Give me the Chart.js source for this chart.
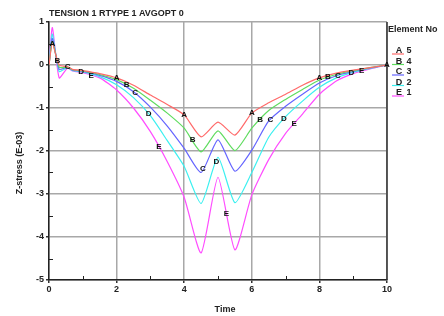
<!DOCTYPE html>
<html lang="en">
<head>
<meta charset="UTF-8">
<title>Z-stress</title>
<script src="https://cdn.jsdelivr.net/npm/chart.js@4.4.0/dist/chart.umd.min.js"></script>
<style>
  body { margin: 0; padding: 0; background: #ffffff; }
  #chart { display: block; }
</style>
</head>
<body>
<canvas id="chart" width="444" height="316"></canvas>
<script>
// time axis and the five element curves (values in E-03)
var times = [0, 0.1, 0.3, 0.55, 0.7, 1, 1.5, 2, 2.5, 3, 3.5, 4, 4.5, 5, 5.5, 6, 6.5, 7, 7.5, 8, 8.5, 9, 9.5, 10];
var seriesA = [0, 0.5, 0.0, -0.04, -0.1, -0.13, -0.2, -0.3, -0.47, -0.7, -0.92, -1.16, -1.67, -1.33, -1.63, -1.12, -0.88, -0.68, -0.47, -0.3, -0.19, -0.12, -0.06, 0];
var seriesB = [0, 0.55, -0.05, -0.05, -0.11, -0.14, -0.22, -0.34, -0.54, -0.82, -1.12, -1.47, -2.02, -1.53, -1.99, -1.47, -1.06, -0.8, -0.57, -0.35, -0.22, -0.13, -0.06, 0];
var seriesC = [0, 0.62, -0.1, -0.05, -0.12, -0.15, -0.24, -0.38, -0.62, -0.98, -1.42, -1.94, -2.5, -1.74, -2.47, -1.98, -1.3, -0.96, -0.68, -0.42, -0.25, -0.15, -0.07, 0];
var seriesD = [0, 0.72, -0.15, -0.06, -0.13, -0.16, -0.27, -0.46, -0.76, -1.18, -1.76, -2.36, -3.22, -2.15, -3.2, -2.5, -1.68, -1.2, -0.84, -0.52, -0.3, -0.17, -0.08, 0];
var seriesE = [0, 0.87, -0.3, -0.07, -0.14, -0.18, -0.3, -0.58, -1.0, -1.55, -2.25, -3.08, -4.37, -2.61, -4.3, -3.02, -2.2, -1.59, -1.14, -0.68, -0.37, -0.2, -0.09, 0];

var letters = ['A', 'B', 'C', 'D', 'E'];
var elementNos = ['5', '4', '3', '2', '1'];
// times at which each curve carries its letter
var labelTimes = [
  [0.1, 2, 4, 6, 8, 10],
  [0.25, 2.3, 4.25, 6.25, 8.25],
  [0.55, 2.55, 4.55, 6.55, 8.55],
  [0.95, 2.95, 4.95, 6.95, 8.95],
  [1.25, 3.25, 5.25, 7.25, 9.25]
];
var colors = ['#ff6a6a', '#5fdc5f', '#6464ff', '#3cf0f0', '#ff4cff'];

var titleText = 'TENSION 1 RTYPE 1 AVGOPT 0';
var xTitle = 'Time';
var yTitle = 'Z-stress (E-03)';
var legendTitle = 'Element No';

var FONT = '"Liberation Sans", Arial, sans-serif';

function pts(values) {
  return values.map(function (v, i) { return { x: times[i], y: v }; });
}

var allSeries = [seriesA, seriesB, seriesC, seriesD, seriesE];
var datasets = allSeries.map(function (s, i) {
  return {
    label: letters[i] + ' ' + elementNos[i],
    data: pts(s),
    borderColor: colors[i],
    borderWidth: 1.2,
    pointRadius: 0,
    tension: 0.2,
    fill: false
  };
});

var extras = {
  id: 'extras',
  afterDatasetsDraw: function (chart) {
    var ctx = chart.ctx;
    var xs = chart.scales.x, ys = chart.scales.y;
    var area = chart.chartArea;
    ctx.save();

    // minor ticks, inward
    ctx.strokeStyle = '#222';
    ctx.lineWidth = 1;
    ctx.beginPath();
    for (var t = 1; t < 10; t += 2) {
      var px = Math.round(xs.getPixelForValue(t)) + 0.5;
      ctx.moveTo(px, area.bottom);
      ctx.lineTo(px, area.bottom - 4);
    }
    for (var v = -4.5; v < 1; v += 1) {
      var py = Math.round(ys.getPixelForValue(v)) + 0.5;
      ctx.moveTo(area.left, py);
      ctx.lineTo(area.left + 4, py);
    }
    ctx.stroke();

    // right frame
    ctx.strokeStyle = '#333';
    ctx.lineWidth = 1.5;
    ctx.beginPath();
    ctx.moveTo(area.right, area.top);
    ctx.lineTo(area.right, area.bottom);
    ctx.stroke();

    // curve letters
    ctx.fillStyle = '#111';
    ctx.font = 'bold 8px ' + FONT;
    ctx.textAlign = 'center';
    ctx.textBaseline = 'middle';
    chart.data.datasets.forEach(function (ds, i) {
      var meta = chart.getDatasetMeta(i);
      labelTimes[i].forEach(function (lt) {
        var lx = xs.getPixelForValue(lt);
        var els = meta.data;
        var ly = els[els.length - 1].y;
        for (var k = 0; k < els.length - 1; k++) {
          if (lx >= els[k].x && lx <= els[k + 1].x) {
            var f = (lx - els[k].x) / (els[k + 1].x - els[k].x || 1);
            ly = els[k].y + f * (els[k + 1].y - els[k].y);
            break;
          }
        }
        ctx.fillText(letters[i], lx, ly);
      });
    });
    ctx.restore();
  },
  afterDraw: function (chart) {
    var ctx = chart.ctx;
    var area = chart.chartArea;
    ctx.save();
    ctx.fillStyle = '#222';

    // title
    ctx.font = 'bold 9px ' + FONT;
    ctx.textAlign = 'left';
    ctx.textBaseline = 'middle';
    ctx.fillText(titleText, area.left, 14);

    // x title
    ctx.textAlign = 'center';
    ctx.fillText(xTitle, (area.left + area.right) / 2 + 7, 310);

    // y title
    ctx.save();
    ctx.translate(20, (area.top + area.bottom) / 2 + 12);
    ctx.rotate(-Math.PI / 2);
    ctx.fillText(yTitle, 0, 0);
    ctx.restore();

    // legend
    ctx.textAlign = 'left';
    ctx.fillText(legendTitle, area.right + 1, 30);
    chart.data.datasets.forEach(function (ds, i) {
      var y = 51 + i * 10.5;
      ctx.strokeStyle = ds.borderColor;
      ctx.lineWidth = 1.2;
      ctx.beginPath();
      ctx.moveTo(area.right + 5, y + 3);
      ctx.lineTo(area.right + 17, y + 3);
      ctx.stroke();
      ctx.fillStyle = '#222';
      ctx.textAlign = 'center';
      ctx.fillText(letters[i], area.right + 12, y);
      ctx.fillText(elementNos[i], area.right + 22, y);
    });
    ctx.restore();
  }
};

new Chart(document.getElementById('chart'), {
  type: 'line',
  data: { datasets: datasets },
  options: {
    responsive: false,
    animation: false,
    layout: { padding: { top: 22, right: 57, left: 0, bottom: 0 } },
    plugins: {
      legend: { display: false },
      title: { display: false },
      tooltip: { enabled: false }
    },
    scales: {
      x: {
        type: 'linear',
        min: 0,
        max: 10,
        afterFit: function (s) { s.height = 36; },
        ticks: {
          stepSize: 2,
          color: '#222',
          padding: 1,
          font: { family: FONT, size: 9, weight: 'bold' },
          maxRotation: 0
        },
        grid: { color: '#a8a8a8', lineWidth: 1.5, tickLength: 3, tickColor: '#333' },
        border: { color: '#222', width: 1.5 }
      },
      y: {
        type: 'linear',
        min: -5,
        max: 1,
        afterFit: function (s) { s.width = 49; },
        ticks: {
          stepSize: 1,
          color: '#222',
          padding: 2,
          font: { family: FONT, size: 9, weight: 'bold' }
        },
        grid: { color: '#a8a8a8', lineWidth: 1.5, tickLength: 3, tickColor: '#333' },
        border: { color: '#222', width: 1.5 }
      }
    }
  },
  plugins: [extras]
});
</script>
</body>
</html>
